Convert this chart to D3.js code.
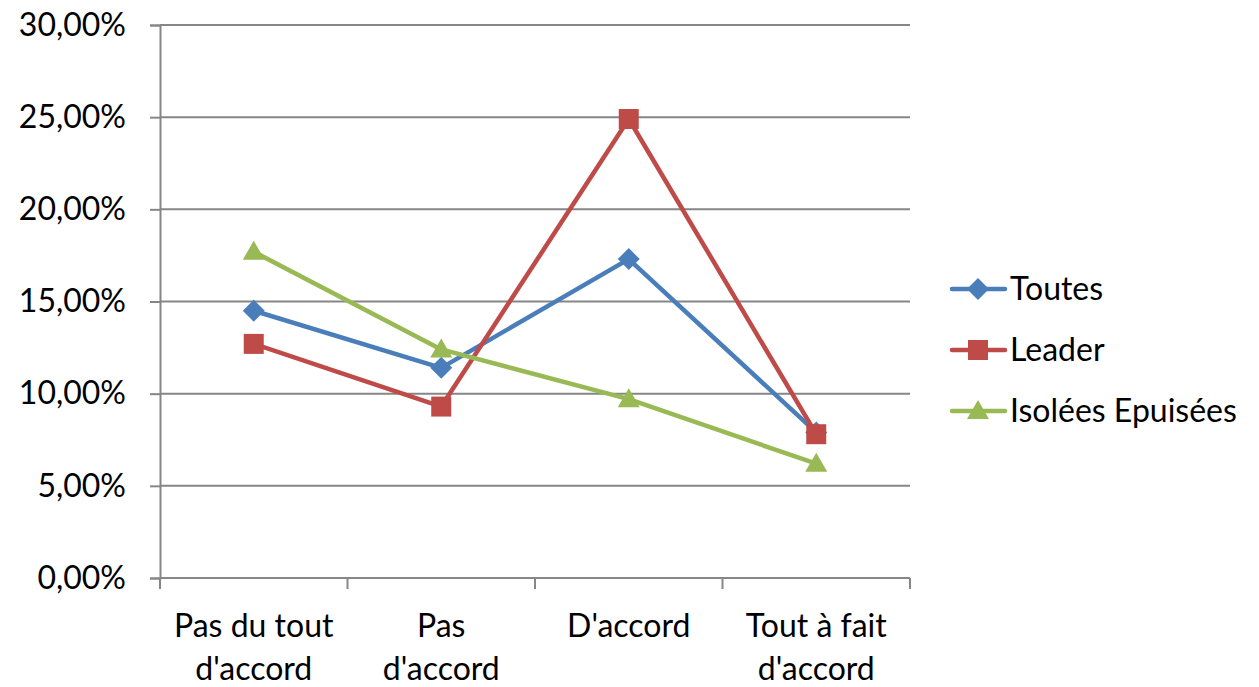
<!DOCTYPE html>
<html><head><meta charset="utf-8">
<script src="https://cdn.jsdelivr.net/npm/d3@7"></script>
<style>body{margin:0;background:#fff}svg{display:block}</style>
</head><body>
<script>
const categories = [["Pas du tout","d'accord"],["Pas","d'accord"],["D'accord"],["Tout à fait","d'accord"]];
const seriesNames = ["Toutes","Leader","Isolées Epuisées"];
const toutes = [14.5, 11.4, 17.3, 7.9];
const leader = [12.7, 9.3, 24.9, 7.8];
const isolees = [17.7, 12.4, 9.7, 6.2];
const yTicks = [0,5,10,15,20,25,30];
const colors = ["#4A7EBB","#BE4B48","#98B954"];

const W=1259,H=687, font="Lato, 'Open Sans', sans-serif", fs=32;
const svg=d3.select("body").append("svg").attr("width",W).attr("height",H);
const x=d3.scaleBand().domain(d3.range(categories.length)).range([160,910]).padding(0);
const y=d3.scaleLinear().domain([0,30]).range([578,25]);
const axisCol="#868686";

const markerPaths=[
  "M0,-11L11,0L0,11L-11,0Z",
  "M-10,-10H10V10H-10Z",
  "M0,-11L11,8H-11Z"
];

// gridlines
svg.append("g").selectAll("line").data(yTicks.filter(d=>d>0)).join("line")
  .attr("x1",160).attr("x2",910).attr("y1",d=>y(d)).attr("y2",d=>y(d))
  .attr("stroke",axisCol).attr("stroke-width",2);
// y axis
const ya=svg.append("g").attr("transform","translate(160,0)")
  .call(d3.axisLeft(y).tickValues(yTicks).tickSize(10).tickPadding(24)
  .tickFormat(d=>d.toFixed(2).replace(".",",")+"%"));
ya.selectAll("path,line").attr("stroke",axisCol).attr("stroke-width",2);
ya.selectAll("text").attr("font-family",font).attr("font-size",fs).attr("fill","#000");
// x axis
const xa=svg.append("g").attr("transform","translate(0,578)")
  .call(d3.axisBottom(x).tickSize(0).tickFormat(""));
xa.select("path").attr("stroke",axisCol).attr("stroke-width",2).attr("d","M160,0H910");
svg.append("g").selectAll("line").data(d3.range(categories.length+1)).join("line")
  .attr("x1",d=>160+d*x.bandwidth()).attr("x2",d=>160+d*x.bandwidth())
  .attr("y1",578).attr("y2",589).attr("stroke",axisCol).attr("stroke-width",2);
svg.append("g").selectAll("text").data(categories).join("text")
  .attr("x",(d,i)=>x(i)+x.bandwidth()/2).attr("y",637)
  .attr("text-anchor","middle").attr("font-family",font).attr("font-size",fs)
  .selectAll("tspan").data(d=>d).join("tspan")
  .attr("x",function(){return this.parentNode.getAttribute("x")}).attr("dy",(d,i)=>i?43:0).text(d=>d);

const data=[toutes,leader,isolees];
const cx=i=>x(i)+x.bandwidth()/2;
const line=d3.line().x((d,i)=>cx(i)).y(d=>y(d));
data.forEach((s,k)=>{
  svg.append("path").attr("d",line(s)).attr("fill","none").attr("stroke",colors[k]).attr("stroke-width",4.5).attr("stroke-linejoin","round");
});
data.forEach((s,k)=>{
  svg.append("g").selectAll("path").data(s).join("path")
    .attr("transform",(d,i)=>`translate(${cx(i)},${y(d)})`)
    .attr("d",markerPaths[k]).attr("fill",colors[k]);
});
// legend
const lg=svg.append("g");
seriesNames.forEach((n,k)=>{
  const ly=289+k*61;
  lg.append("line").attr("x1",952).attr("x2",1005).attr("y1",ly).attr("y2",ly).attr("stroke",colors[k]).attr("stroke-width",4.5).attr("stroke-linecap","round");
  lg.append("path").attr("transform",`translate(978,${ly})`).attr("d",markerPaths[k]).attr("fill",colors[k]);
  lg.append("text").attr("x",1010).attr("y",ly+11).attr("font-family",font).attr("font-size",fs).text(n);
});
</script>
</body></html>
